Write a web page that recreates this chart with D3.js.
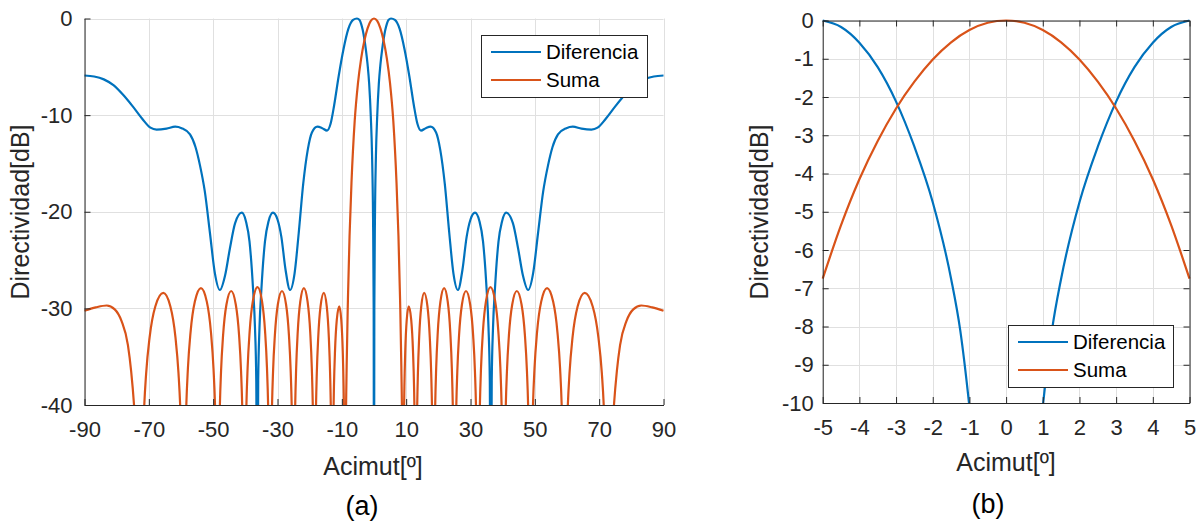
<!doctype html>
<html>
<head>
<meta charset="utf-8">
<script src="https://cdnjs.cloudflare.com/ajax/libs/d3/7.8.5/d3.min.js"></script>
<style>
  body { margin: 0; background: #fff; }
  svg text { font-family: "Liberation Sans", Arial, Helvetica, sans-serif; fill: #262626; }
</style>
</head>
<body>
<svg id="chart" width="1201" height="523"></svg>
<script>
// ---- datos ----
var ticksAmplioX = [-90, -70, -50, -30, -10, 10, 30, 50, 70, 90];
var ticksAmplioY = [-40, -30, -20, -10, 0];
var ticksZoomX = [-5, -4, -3, -2, -1, 0, 1, 2, 3, 4, 5];
var ticksZoomY = [-10, -9, -8, -7, -6, -5, -4, -3, -2, -1, 0];
var nombres = ["Diferencia", "Suma"];

// (a) diagrama completo, [acimut, dB]
var diferenciaAmplio = [
  [-90,-5.9],[-87,-6],[-84,-6.3],[-81,-6.9],[-78,-7.9],[-75,-9.1],[-72,-10.4],[-69.5,-11.3],
  [-67.6,-11.5],[-64.5,-11.4],[-61.8,-11.2],[-59.8,-11.35],[-57.2,-12],[-55.5,-13.3],[-54.1,-15.2],
  [-52.6,-17.9],[-51,-22.2],[-49.5,-26.3],[-47.9,-28.1],[-46.3,-26.6],[-44.8,-23.8],[-43.2,-21.2],
  [-41.1,-20.1],[-39.8,-21],[-38.7,-23.1],[-37.6,-28],[-37,-32],[-36.6,-37.5],[-36.3,-60],
  [-36,-37.5],[-35.6,-32],[-35,-28],[-33.9,-23.1],[-32.8,-21],[-31.4,-20.1],[-30,-20.8],
  [-28.8,-22.6],[-27.5,-26],[-26.1,-28.1],[-24.7,-26.4],[-23.4,-22.2],[-22,-17.1],[-20.6,-13.6],
  [-19.3,-11.8],[-17.6,-11.2],[-16.1,-11.35],[-14.6,-11.6],[-13.5,-10.9],[-12.4,-9],[-11,-6],
  [-9.5,-3.2],[-8,-1.1],[-6.5,-0.15],[-5.3,0],[-4.5,-0.15],[-4,-0.55],[-3.5,-1.2],[-3,-2.12],
  [-2.5,-3.3],[-2,-4.75],[-1.5,-6.75],[-1,-10.1],[-0.6,-14.2],[-0.3,-20.5],[-0.1,-30],[0,-60],
  [0.1,-30],[0.3,-20.5],[0.6,-14.2],[1,-10.1],[1.5,-6.75],[2,-4.75],[2.5,-3.3],[3,-2.12],
  [3.5,-1.2],[4,-0.55],[4.5,-0.15],[5.3,0],[6.5,-0.15],[8,-1.1],[9.5,-3.2],[11,-6],[12.4,-9],
  [13.5,-10.9],[14.6,-11.6],[16.1,-11.35],[17.6,-11.2],[19.3,-11.8],[20.6,-13.6],[22,-17.1],
  [23.4,-22.2],[24.7,-26.4],[26.1,-28.1],[27.5,-26],[28.8,-22.6],[30,-20.8],[31.4,-20.1],
  [32.8,-21],[33.9,-23.1],[35,-28],[35.6,-32],[36,-37.5],[36.3,-60],[36.6,-37.5],[37,-32],
  [37.6,-28],[38.7,-23.1],[39.8,-21],[41.1,-20.1],[43.2,-21.2],[44.8,-23.8],[46.3,-26.6],
  [47.9,-28.1],[49.5,-26.3],[51,-22.2],[52.6,-17.9],[54.1,-15.2],[55.5,-13.3],[57.2,-12],
  [59.8,-11.35],[61.8,-11.2],[64.5,-11.4],[67.6,-11.5],[69.5,-11.3],[72,-10.4],[75,-9.1],
  [78,-7.9],[81,-6.9],[84,-6.3],[87,-6],[90,-5.9]
];

var sumaAmplio = [
  [-90,-30.25],[-86.5,-29.9],[-83.1,-29.7],[-80.6,-30.1],[-78.5,-31.3],[-76.5,-33.8],[-75.5,-36.5],
  [-74.6,-40],[-73.3,-48],[-72.6,-60],
  [-72.1,-47.6],[-71.54,-41],[-70.83,-36.7],[-69.76,-33],[-67.99,-29.8],[-65.5,-28.4],[-63.3,-29.8],
  [-61.72,-33],[-60.78,-36.7],[-60.15,-41],[-59.64,-47.6],[-59.2,-60],
  [-58.82,-47.1],[-58.39,-40.5],[-57.85,-36.2],[-57.04,-32.5],[-55.69,-29.3],[-53.8,-27.9],
  [-51.98,-29.3],[-50.68,-32.5],[-49.9,-36.2],[-49.38,-40.5],[-48.96,-47.1],[-48.6,-60],
  [-48.31,-47.4],[-47.97,-40.8],[-47.55,-36.5],[-46.92,-32.8],[-45.87,-29.6],[-44.4,-28.2],
  [-42.97,-29.6],[-41.94,-32.8],[-41.33,-36.5],[-40.92,-40.8],[-40.59,-47.4],[-40.3,-60],
  [-40.01,-47],[-39.69,-40.4],[-39.28,-36.1],[-38.66,-32.4],[-37.64,-29.2],[-36.2,-27.8],
  [-34.84,-29.2],[-33.86,-32.4],[-33.28,-36.1],[-32.89,-40.4],[-32.57,-47],[-32.3,-60],
  [-32.04,-47.4],[-31.75,-40.8],[-31.38,-36.5],[-30.82,-32.8],[-29.9,-29.6],[-28.6,-28.2],
  [-27.34,-29.6],[-26.44,-32.8],[-25.9,-36.5],[-25.54,-40.8],[-25.25,-47.4],[-25,-60],
  [-24.78,-47.1],[-24.52,-40.5],[-24.2,-36.2],[-23.72,-32.5],[-22.92,-29.3],[-21.8,-27.9],
  [-20.65,-29.3],[-19.82,-32.5],[-19.33,-36.2],[-19,-40.5],[-18.73,-47.1],[-18.5,-60],
  [-18.3,-47.6],[-18.07,-41],[-17.78,-36.7],[-17.34,-33],[-16.62,-29.8],[-15.6,-28.4],
  [-14.69,-29.8],[-14.04,-33],[-13.65,-36.7],[-13.39,-41],[-13.18,-47.6],[-13,-60],
  [-12.85,-49],[-12.67,-42.4],[-12.45,-38.1],[-12.12,-34.4],[-11.57,-31.2],[-10.8,-29.8],
  [-10.17,-31.2],[-9.72,-34.4],[-9.45,-38.1],[-9.27,-42.4],[-9.13,-49],[-9,-60],
  [-8.8,-45],[-8.5,-36],[-8.1,-29],[-7.6,-22.5],[-7,-17],[-6,-10.6],[-5,-6.75],[-4,-4.15],
  [-3,-2.3],[-2,-1.02],[-1,-0.25],[0,0],[1,-0.25],[2,-1.02],[3,-2.3],[4,-4.15],[5,-6.75],
  [6,-10.6],[7,-17],[7.6,-22.5],[8.1,-29],[8.5,-36],[8.8,-45],
  [9,-60],[9.13,-49],[9.27,-42.4],[9.45,-38.1],[9.72,-34.4],[10.17,-31.2],[10.8,-29.8],
  [11.57,-31.2],[12.12,-34.4],[12.45,-38.1],[12.67,-42.4],[12.85,-49],
  [13,-60],[13.18,-47.6],[13.39,-41],[13.65,-36.7],[14.04,-33],[14.69,-29.8],[15.6,-28.4],
  [16.62,-29.8],[17.34,-33],[17.78,-36.7],[18.07,-41],[18.3,-47.6],
  [18.5,-60],[18.73,-47.1],[19,-40.5],[19.33,-36.2],[19.82,-32.5],[20.65,-29.3],[21.8,-27.9],
  [22.92,-29.3],[23.72,-32.5],[24.2,-36.2],[24.52,-40.5],[24.78,-47.1],
  [25,-60],[25.25,-47.4],[25.54,-40.8],[25.9,-36.5],[26.44,-32.8],[27.34,-29.6],[28.6,-28.2],
  [29.9,-29.6],[30.82,-32.8],[31.38,-36.5],[31.75,-40.8],[32.04,-47.4],
  [32.3,-60],[32.57,-47],[32.89,-40.4],[33.28,-36.1],[33.86,-32.4],[34.84,-29.2],[36.2,-27.8],
  [37.64,-29.2],[38.66,-32.4],[39.28,-36.1],[39.69,-40.4],[40.01,-47],
  [40.3,-60],[40.59,-47.4],[40.92,-40.8],[41.33,-36.5],[41.94,-32.8],[42.97,-29.6],[44.4,-28.2],
  [45.87,-29.6],[46.92,-32.8],[47.55,-36.5],[47.97,-40.8],[48.31,-47.4],
  [48.6,-60],[48.96,-47.1],[49.38,-40.5],[49.9,-36.2],[50.68,-32.5],[51.98,-29.3],[53.8,-27.9],
  [55.69,-29.3],[57.04,-32.5],[57.85,-36.2],[58.39,-40.5],[58.82,-47.1],
  [59.2,-60],[59.64,-47.6],[60.15,-41],[60.78,-36.7],[61.72,-33],[63.3,-29.8],[65.5,-28.4],
  [67.99,-29.8],[69.76,-33],[70.83,-36.7],[71.54,-41],[72.1,-47.6],
  [72.6,-60],[73.3,-48],[74.6,-40],[75.5,-36.5],[76.5,-33.8],[78.5,-31.3],[80.6,-30.1],
  [83.1,-29.7],[86.5,-29.9],[90,-30.25]
];

// (b) detalle del haz principal
var diferenciaZoom = [
  [-5,0],[-4.5,-0.17],[-4,-0.58],[-3.5,-1.22],[-3,-2.12],[-2.5,-3.3],[-2,-4.75],[-1.5,-6.75],
  [-1.25,-8.1],[-1,-10.1],[-0.75,-12.6],[-0.5,-16.2],[-0.25,-22],[0,-60],[0.25,-22],[0.5,-16.2],
  [0.75,-12.6],[1,-10.1],[1.25,-8.1],[1.5,-6.75],[2,-4.75],[2.5,-3.3],[3,-2.12],[3.5,-1.22],
  [4,-0.58],[4.5,-0.17],[5,0]
];
var sumaZoom = [
  [-5,-6.75],[-4.5,-5.35],[-4,-4.15],[-3.5,-3.15],[-3,-2.3],[-2.5,-1.6],[-2,-1.02],[-1.5,-0.57],
  [-1,-0.25],[-0.5,-0.06],[0,0],[0.5,-0.06],[1,-0.25],[1.5,-0.57],[2,-1.02],[2.5,-1.6],
  [3,-2.3],[3.5,-3.15],[4,-4.15],[4.5,-5.35],[5,-6.75]
];

var colores = ["#0072BD", "#D95319"];
var svg = d3.select("#chart");

function dibujarPanel(cfg) {
  var g = svg.append("g");
  var x = d3.scaleLinear().domain(cfg.dominioX).range([cfg.izq, cfg.der]);
  var y = d3.scaleLinear().domain(cfg.dominioY).range([cfg.abajo, cfg.arriba]);

  // rejilla
  g.append("g").selectAll("line").data(cfg.ticksX).enter().append("line")
    .attr("x1", d => Math.round(x(d)) + 0.5).attr("x2", d => Math.round(x(d)) + 0.5)
    .attr("y1", cfg.arriba).attr("y2", cfg.abajo)
    .attr("stroke", "#e0e0e0").attr("stroke-width", 1);
  g.append("g").selectAll("line").data(cfg.ticksY).enter().append("line")
    .attr("y1", d => Math.round(y(d)) + 0.5).attr("y2", d => Math.round(y(d)) + 0.5)
    .attr("x1", cfg.izq).attr("x2", cfg.der)
    .attr("stroke", "#e0e0e0").attr("stroke-width", 1);

  // recorte
  var id = "clip" + cfg.nombre;
  svg.append("clipPath").attr("id", id).append("rect")
    .attr("x", cfg.izq - 3).attr("y", cfg.arriba - 3)
    .attr("width", cfg.der - cfg.izq + 6).attr("height", cfg.abajo - cfg.arriba + 3);

  var linea = d3.line().x(d => x(d[0])).y(d => y(d[1])).curve(d3.curveMonotoneX);
  cfg.series.forEach(function (s, i) {
    g.append("path").datum(s)
      .attr("clip-path", "url(#" + id + ")")
      .attr("fill", "none").attr("stroke", colores[i])
      .attr("stroke-width", 2.2).attr("stroke-linejoin", "round")
      .attr("d", linea);
  });

  // ejes
  var fmt = d => String(d);
  var ejeX = g.append("g").attr("transform", "translate(0," + cfg.abajo + ")")
    .call(d3.axisBottom(x).tickValues(cfg.ticksX).tickFormat(fmt)
      .tickSizeInner(-6).tickSizeOuter(0).tickPadding(cfg.padX));
  var ejeY = g.append("g").attr("transform", "translate(" + cfg.izq + ",0)")
    .call(d3.axisLeft(y).tickValues(cfg.ticksY).tickFormat(fmt)
      .tickSizeInner(-6).tickSizeOuter(0).tickPadding(cfg.padY));
  [ejeX, ejeY].forEach(function (e) {
    e.selectAll("path, line").attr("stroke", "#262626");
    e.selectAll("text").attr("fill", "#262626").style("font-size", cfg.fuenteTicks + "px");
  });
  if (cfg.caja) {
    [d3.axisTop(x).tickValues(cfg.ticksX), d3.axisRight(y).tickValues(cfg.ticksY)].forEach(function (a, k) {
      g.append("g")
        .attr("transform", k === 0 ? "translate(0," + cfg.arriba + ")" : "translate(" + cfg.der + ",0)")
        .call(a.tickFormat("").tickSizeInner(-6).tickSizeOuter(0))
        .selectAll("path, line").attr("stroke", "#262626");
    });
  }

  // titulos
  g.append("text").attr("x", cfg.tituloX[0]).attr("y", cfg.tituloX[1])
    .attr("text-anchor", "middle").style("font-size", "25px").text("Acimut[º]");
  g.append("text").attr("transform", "translate(" + cfg.tituloY[0] + "," + cfg.tituloY[1] + ") rotate(-90)")
    .attr("text-anchor", "middle").style("font-size", "25px").text("Directividad[dB]");
  g.append("text").attr("x", cfg.letra[0]).attr("y", cfg.letra[1])
    .attr("text-anchor", "middle").style("font-size", "27px").style("fill", "#000").text(cfg.rotulo);

  // leyenda
  var L = cfg.leyenda;
  var ley = g.append("g");
  ley.append("rect").attr("x", L.x + 0.5).attr("y", L.y + 0.5).attr("width", L.w).attr("height", L.h)
    .attr("fill", "#fff").attr("stroke", "#262626").attr("stroke-width", 1);
  nombres.forEach(function (n, i) {
    var yy = L.y + L.fila0 + i * L.paso;
    ley.append("line").attr("x1", L.x + 10).attr("x2", L.x + 60).attr("y1", yy).attr("y2", yy)
      .attr("stroke", colores[i]).attr("stroke-width", 2.2);
    ley.append("text").attr("x", L.x + 65).attr("y", yy + 7)
      .style("font-size", "20.5px").style("fill", "#000").text(n);
  });
}

dibujarPanel({
  nombre: "a", rotulo: "(a)",
  dominioX: [-90, 90], dominioY: [-40, 0],
  izq: 84.5, der: 663.5, arriba: 18.5, abajo: 405,
  ticksX: ticksAmplioX, ticksY: ticksAmplioY,
  series: [diferenciaAmplio, sumaAmplio],
  padX: 16, padY: 12, fuenteTicks: 22, caja: false,
  tituloX: [373, 475], tituloY: [29, 212], letra: [362, 515],
  leyenda: { x: 481, y: 35, w: 166, h: 62, fila0: 17, paso: 28 }
});

dibujarPanel({
  nombre: "b", rotulo: "(b)",
  dominioX: [-5, 5], dominioY: [-10, 0],
  izq: 822.7, der: 1189.5, arriba: 20.5, abajo: 403,
  ticksX: ticksZoomX, ticksY: ticksZoomY,
  series: [diferenciaZoom, sumaZoom],
  padX: 16, padY: 9, fuenteTicks: 22, caja: true,
  tituloX: [1006, 471], tituloY: [768, 212], letra: [988, 513],
  leyenda: { x: 1008, y: 325, w: 165, h: 62, fila0: 17, paso: 28 }
});
</script>
</body>
</html>
